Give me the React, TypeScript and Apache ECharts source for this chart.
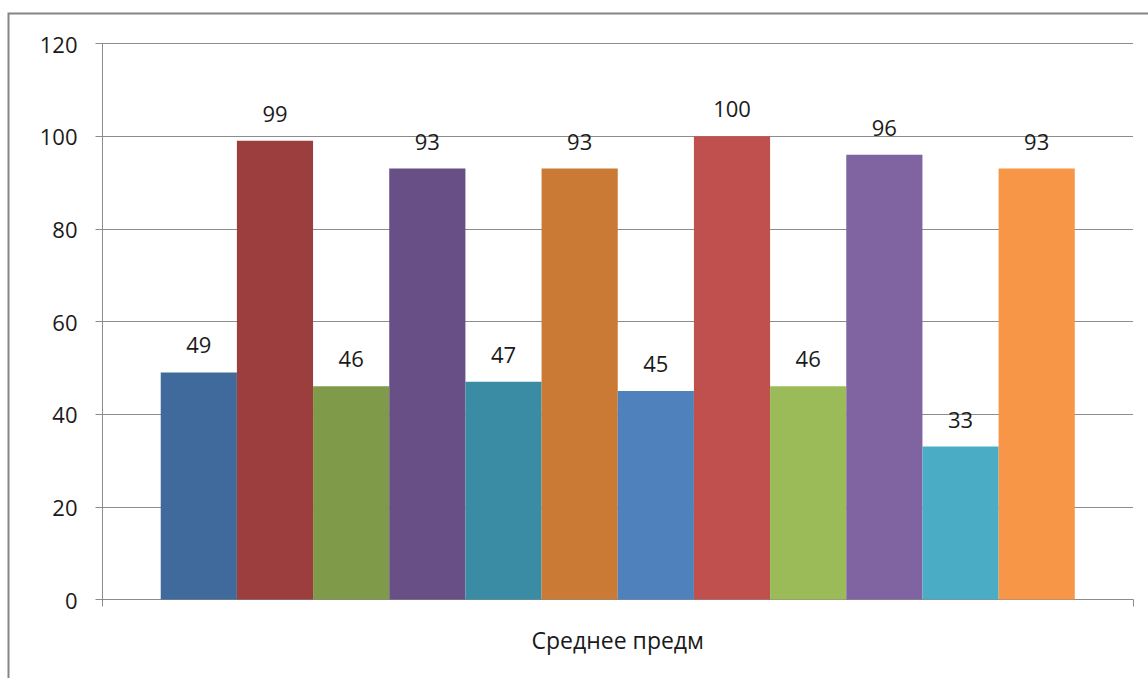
import React, { useEffect, useRef } from "react";
import * as echarts from "echarts";

const categories = ["Среднее предм"];
const values = [49, 99, 46, 93, 47, 93, 45, 100, 46, 96, 33, 93];
const colors = [
  "#3F6A9B",
  "#9C3E3D",
  "#7F9A48",
  "#684F86",
  "#3A8BA4",
  "#CB7A35",
  "#4F81BD",
  "#C0504D",
  "#9BBB59",
  "#8064A2",
  "#4BACC6",
  "#F79646",
];
const yTicks = { min: 0, max: 120, interval: 20 };

const FONT = "'Open Sans', sans-serif";

export default function App() {
  const ref = useRef<HTMLDivElement>(null);
  useEffect(() => {
    if (!ref.current) return;
    const chart = echarts.init(ref.current, undefined, { renderer: "svg" });
    chart.setOption({
      animation: false,
      backgroundColor: "#ffffff",
      textStyle: { fontFamily: FONT },
      graphic: [
        {
          type: "rect",
          shape: { x: 8.5, y: 13.5, width: 1200, height: 700 },
          style: { fill: "none", stroke: "#858585", lineWidth: 2 },
          silent: true,
        },
      ],
      grid: { left: 102.5, right: 15, top: 43.5, bottom: 78.5 },
      xAxis: {
        type: "category",
        data: categories,
        axisLine: { show: true, lineStyle: { color: "#8C8C8C", width: 1 } },
        axisTick: { show: true, alignWithLabel: false, length: 7, lineStyle: { color: "#8C8C8C" } },
        axisLabel: { color: "#1a1a1a", fontSize: 23, fontFamily: FONT, margin: 29 },
      },
      yAxis: {
        type: "value",
        min: yTicks.min,
        max: yTicks.max,
        interval: yTicks.interval,
        axisLine: { show: true, lineStyle: { color: "#8C8C8C", width: 1 } },
        axisTick: { show: true, inside: false, length: 7, lineStyle: { color: "#8C8C8C" } },
        splitLine: { show: true, lineStyle: { color: "#8C8C8C", width: 1 } },
        axisLabel: { color: "#1a1a1a", fontSize: 22, fontFamily: FONT, margin: 25 },
      },
      series: values.map((v, i) => ({
        type: "bar",
        name: "s" + (i + 1),
        data: [v],
        barGap: "0%",
        barCategoryGap: "11.3%",
        itemStyle: { color: colors[i] },
        label: {
          show: true,
          position: "top",
          distance: 17,
          color: "#1a1a1a",
          fontSize: 22,
          fontFamily: FONT,
        },
      })),
    });
    return () => chart.dispose();
  }, []);
  return (
    <div
      ref={ref}
      style={{ position: "absolute", left: 0, top: 0, width: 1148, height: 678 }}
    />
  );
}
